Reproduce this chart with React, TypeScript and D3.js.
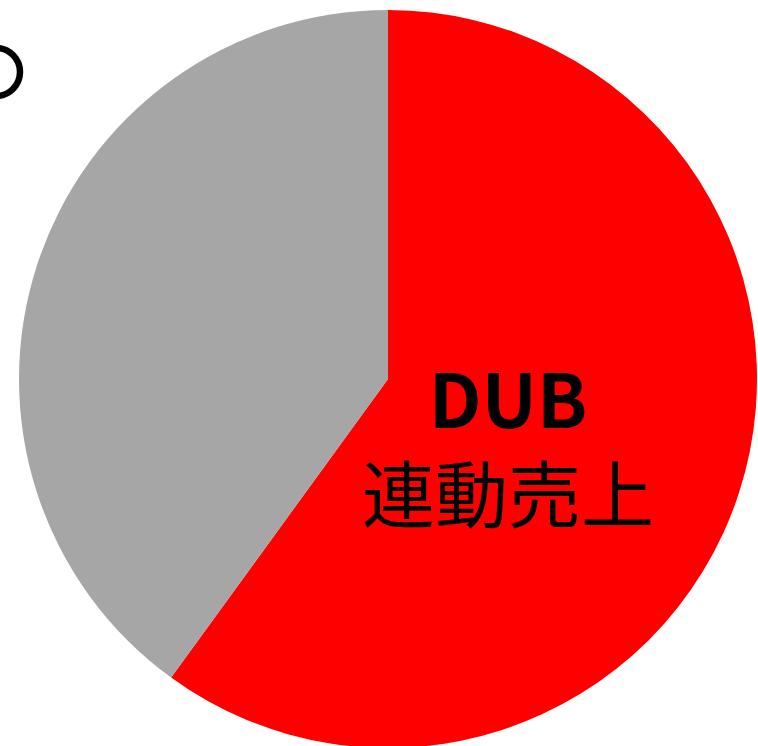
import React from 'react'
import * as d3 from 'd3'

const categories = ['DUB連動売上', 'その他']
const shares = [60, 40]
const colors = ['#ff0000', '#a6a6a6']
const labelLines = ['DUB', '連動売上']

const width = 758
const height = 746
const cx = 388
const cy = 379
const radius = 369

const App = () => {
  // pie starts at 12 o'clock and runs clockwise, no sorting
  const pie = d3.pie<number>().sort(null).value(d => d)
  const arcs = pie(shares)
  const arc = d3.arc<d3.PieArcDatum<number>>().innerRadius(0).outerRadius(radius)

  return (
    <svg width={width} height={height} style={{ position: 'absolute', left: 0, top: 0 }}
      fontFamily="'Noto Sans CJK JP', 'Noto Sans', sans-serif">
      <g transform={`translate(${cx},${cy})`}>
        {arcs.map((a, i) => (
          <path key={categories[i]} d={arc(a) || ''} fill={colors[i]} />
        ))}
      </g>
      {/* cut-off ring at the left edge */}
      <circle cx={-4} cy={72} r={24} fill="none" stroke="#000" strokeWidth={6.5} />
      <text x={508} y={428} textAnchor="middle" fontSize={74} fontWeight="bold" fill="#000">{labelLines[0]}</text>
      <text x={508} y={522} textAnchor="middle" fontSize={73} fill="#000">{labelLines[1]}</text>
    </svg>
  )
}

export default App
